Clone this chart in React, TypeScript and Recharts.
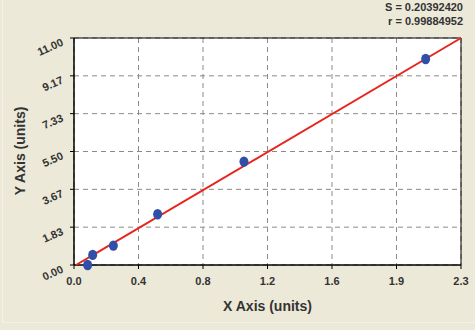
import {
  CartesianGrid,
  ReferenceArea,
  Scatter,
  ScatterChart,
  XAxis,
  YAxis,
} from "recharts";

const FONT = "Arial, 'Liberation Sans', sans-serif";
const BG = "#ece9d8";
const TEXT = "#333";
const DOT = "#2f4fa8";
const FIT = "#e8241c";

const xTicks = [0, 0.38333, 0.76667, 1.15, 1.53333, 1.91667, 2.3];
const xTickLabels = ["0.0", "0.4", "0.8", "1.2", "1.6", "1.9", "2.3"];
const yTicks = [0, 1.83333, 3.66667, 5.5, 7.33333, 9.16667, 11];
const yTickLabels = ["0.00", "1.83", "3.67", "5.50", "7.33", "9.17", "11.00"];

const sampleX = [0.081, 0.111, 0.234, 0.497, 1.01, 2.09];
const sampleY = [0.0, 0.49, 0.94, 2.46, 5.01, 9.98];

const fitX = [0.012, 2.3];
const fitY = [0, 11];

const stats = ["S = 0.20392420", "r = 0.99884952"];

const samples = sampleX.map((x, i) => ({ x, y: sampleY[i] }));
const fitLine = fitX.map((x, i) => ({ x, y: fitY[i] }));

// minor tick marks: 4 subdivisions between labelled ticks
const minorX = Array.from({ length: 25 }, (_, i) => (2.3 * i) / 24);
const minorY = Array.from({ length: 25 }, (_, i) => (11 * i) / 24);

const XTick = (props: any) => {
  const { x, y, index } = props;
  return (
    <text x={x} y={y + 14} textAnchor="middle" fill={TEXT} fontSize={11} fontWeight="bold" fontFamily={FONT}>
      {xTickLabels[index]}
    </text>
  );
};

const YTick = (props: any) => {
  const { x, y, index } = props;
  const ax = x - 4;
  const ay = y + 7;
  return (
    <text
      x={ax}
      y={ay}
      textAnchor="end"
      transform={`rotate(-24, ${ax}, ${ay})`}
      fill={TEXT}
      fontSize={11}
      fontWeight="bold"
      fontFamily={FONT}
    >
      {yTickLabels[index]}
    </text>
  );
};

const Dot = (props: any) => {
  const { cx, cy } = props;
  return <ellipse cx={cx} cy={cy} rx={4.5} ry={5.2} fill={DOT} />;
};

const Empty = () => <g />;

export default function App() {
  return (
    <div style={{ position: "absolute", left: 0, top: 0, width: 475, height: 330, background: BG, fontFamily: FONT }}>
      <div
        style={{
          position: "absolute",
          left: 2,
          top: 0,
          width: 473,
          height: 322,
          borderLeft: "1px solid #f4f2e8",
          borderBottom: "1px solid #f4f2e8",
        }}
      />
      <div
        style={{
          position: "absolute",
          right: 12,
          top: 0,
          textAlign: "right",
          fontSize: 11,
          fontWeight: "bold",
          color: TEXT,
          lineHeight: "14px",
        }}
      >
        {stats.map((s) => (
          <div key={s}>{s}</div>
        ))}
      </div>
      <div
        style={{
          position: "absolute",
          left: 0,
          width: 535,
          top: 298,
          textAlign: "center",
          fontSize: 14,
          fontWeight: "bold",
          color: TEXT,
        }}
      >
        X Axis (units)
      </div>
      <div
        style={{
          position: "absolute",
          left: 20,
          top: 151,
          transform: "translate(-50%, -50%) rotate(-90deg)",
          whiteSpace: "nowrap",
          fontSize: 14,
          fontWeight: "bold",
          color: TEXT,
        }}
      >
        Y Axis (units)
      </div>
      <ScatterChart width={475} height={330} margin={{ top: 38, right: 14, bottom: 0, left: 0 }}>
        <CartesianGrid fill="#fff" stroke="#8a8a8a" strokeDasharray="5 4" />
        <XAxis
          xAxisId="minor"
          dataKey="x"
          type="number"
          domain={[0, 2.3]}
          ticks={minorX}
          height={0}
          axisLine={false}
          tick={Empty}
          tickLine={{ stroke: "#000" }}
          tickSize={3}
          interval={0}
        />
        <YAxis
          yAxisId="minor"
          dataKey="y"
          type="number"
          domain={[0, 11]}
          ticks={minorY}
          width={0}
          axisLine={false}
          tick={Empty}
          tickLine={{ stroke: "#000" }}
          tickSize={3}
          interval={0}
        />
        <XAxis
          dataKey="x"
          type="number"
          domain={[0, 2.3]}
          ticks={xTicks}
          interval={0}
          height={65}
          tick={<XTick />}
          tickSize={4}
          axisLine={{ stroke: "#000" }}
          tickLine={{ stroke: "#000" }}
        />
        <YAxis
          dataKey="y"
          type="number"
          domain={[0, 11]}
          ticks={yTicks}
          interval={0}
          width={74}
          tick={<YTick />}
          tickSize={4}
          axisLine={{ stroke: "#000" }}
          tickLine={{ stroke: "#000" }}
        />
        <ReferenceArea x1={0} x2={2.3} y1={0} y2={11} fill="none" stroke="#000" strokeWidth={1} />
        <Scatter
          data={fitLine}
          line={{ stroke: FIT, strokeWidth: 2 }}
          shape={Empty}
          isAnimationActive={false}
        />
        <Scatter data={samples} shape={<Dot />} isAnimationActive={false} />
      </ScatterChart>
    </div>
  );
}
